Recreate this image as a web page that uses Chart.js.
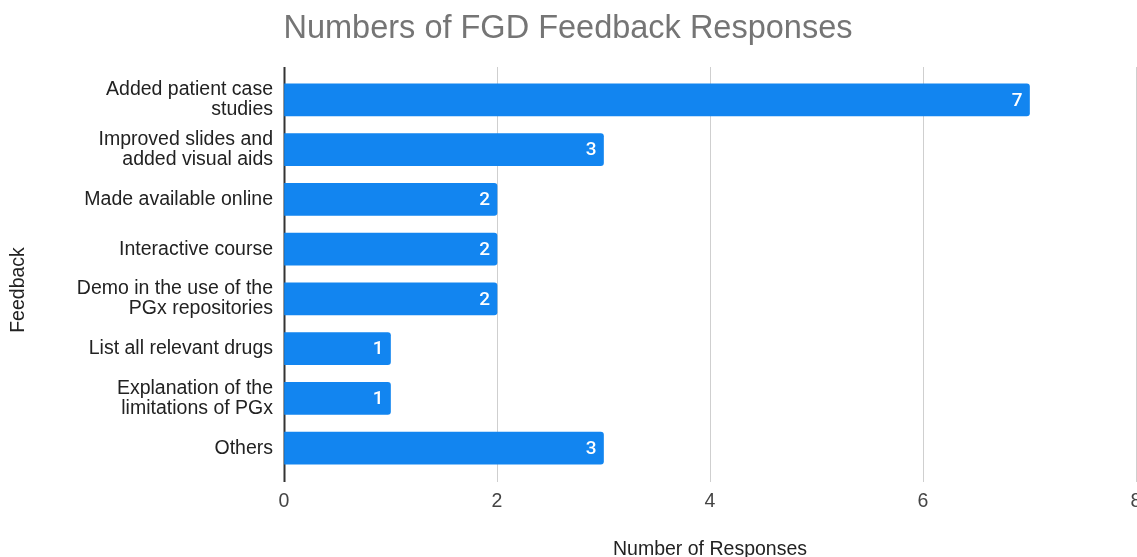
<!DOCTYPE html>
<html>
<head>
<meta charset="utf-8">
<title>Numbers of FGD Feedback Responses</title>
<script src="https://cdn.jsdelivr.net/npm/chart.js@4.4.1/dist/chart.umd.min.js"></script>
<style>
  html, body { margin:0; padding:0; background:#fff; overflow:hidden; }
  #wrap { width:1150px; height:570px; overflow:hidden; position:relative; }
  canvas { position:absolute; left:0; top:0; width:1150px; height:570px; }
</style>
</head>
<body>
<div id="wrap"><canvas id="fgdChart" width="1150" height="570"></canvas></div>
<script>
const feedbackLabels = [
  ['Added patient case', 'studies'],
  ['Improved slides and', 'added visual aids'],
  'Made available online',
  'Interactive course',
  ['Demo in the use of the', 'PGx repositories'],
  'List all relevant drugs',
  ['Explanation of the', 'limitations of PGx'],
  'Others'
];
const responseCounts = [7, 3, 2, 2, 2, 1, 1, 3];
const xTicks = [0, 2, 4, 6, 8];

const FONT = "'Liberation Sans', Arial, sans-serif";

// vertical grid, a bit taller than the bar area like the sheets export
const gridLines = {
  id:'gridLines',
  beforeDatasetsDraw(chart){
    const { ctx, chartArea:a, scales:{ x } } = chart;
    ctx.save();
    xTicks.forEach(v => {
      const px = Math.round(x.getPixelForValue(v)) + 0.5;
      ctx.beginPath();
      ctx.strokeStyle = v === 0 ? '#333' : '#cfcfcf';
      ctx.lineWidth = v === 0 ? 2 : 1;
      ctx.moveTo(px, a.top - 8);
      ctx.lineTo(px, a.bottom + 9);
      ctx.stroke();
    });
    ctx.restore();
  }
};

// value printed inside the end of each bar
const barValues = {
  id:'barValues',
  afterDatasetsDraw(chart){
    const { ctx } = chart;
    const meta = chart.getDatasetMeta(0);
    ctx.save();
    ctx.fillStyle = '#fff';
    ctx.font = '500 19px Roboto, ' + FONT;
    ctx.textAlign = 'right';
    ctx.textBaseline = 'middle';
    meta.data.forEach((bar, i) => {
      ctx.fillText(String(responseCounts[i]), bar.x - 7, bar.y + 1);
    });
    ctx.restore();
  }
};

// vertical axis title, sits a little below the middle of the bars
const yTitle = {
  id:'yTitle',
  afterDraw(chart){
    const { ctx } = chart;
    ctx.save();
    ctx.translate(19, 290);
    ctx.rotate(-Math.PI / 2);
    ctx.fillStyle = '#222';
    ctx.font = '19.5px ' + FONT;
    ctx.textAlign = 'center';
    ctx.textBaseline = 'middle';
    ctx.fillText('Feedback', 0, 0);
    ctx.restore();
  }
};

new Chart(document.getElementById('fgdChart').getContext('2d'), {
  type:'bar',
  data:{
    labels: feedbackLabels,
    datasets:[{
      data: responseCounts,
      backgroundColor:'#1285f0',
      borderRadius:3,
      borderSkipped:'start',
      barThickness:32
    }]
  },
  options:{
    indexAxis:'y',
    responsive:false,
    animation:false,
    layout:{ padding:{ left:0, right:14, top:0, bottom:0 } },
    plugins:{
      legend:{ display:false },
      tooltip:{ enabled:false },
      title:{
        display:true,
        text:'Numbers of FGD Feedback Responses',
        color:'#757575',
        font:{ family:FONT, size:32.5, weight:'normal', lineHeight:1.2 },
        padding:{ top:10, bottom:26 }
      }
    },
    scales:{
      x:{
        min:0, max:8,
        afterBuildTicks: s => { s.ticks = xTicks.map(v => ({ value:v })); },
        afterFit: s => { s.height = 97; },
        // invisible tick marks just push the labels down; lines come from gridLines
        grid:{ display:true, color:'transparent', drawOnChartArea:false, drawTicks:true, tickLength:14 },
        border:{ display:false },
        ticks:{ color:'#444', padding:3, font:{ family:FONT, size:19.5 } },
        title:{
          display:true,
          text:'Number of Responses',
          color:'#222',
          padding:{ top:0, bottom:9 },
          font:{ family:FONT, size:19.5 }
        }
      },
      y:{
        afterFit: s => { s.width = 284; },
        grid:{ display:false, drawTicks:false },
        border:{ display:false },
        ticks:{ color:'#222', padding:11, font:{ family:FONT, size:19.5, lineHeight:'20px' } }
      }
    }
  },
  plugins:[gridLines, barValues, yTitle]
});
</script>
</body>
</html>
